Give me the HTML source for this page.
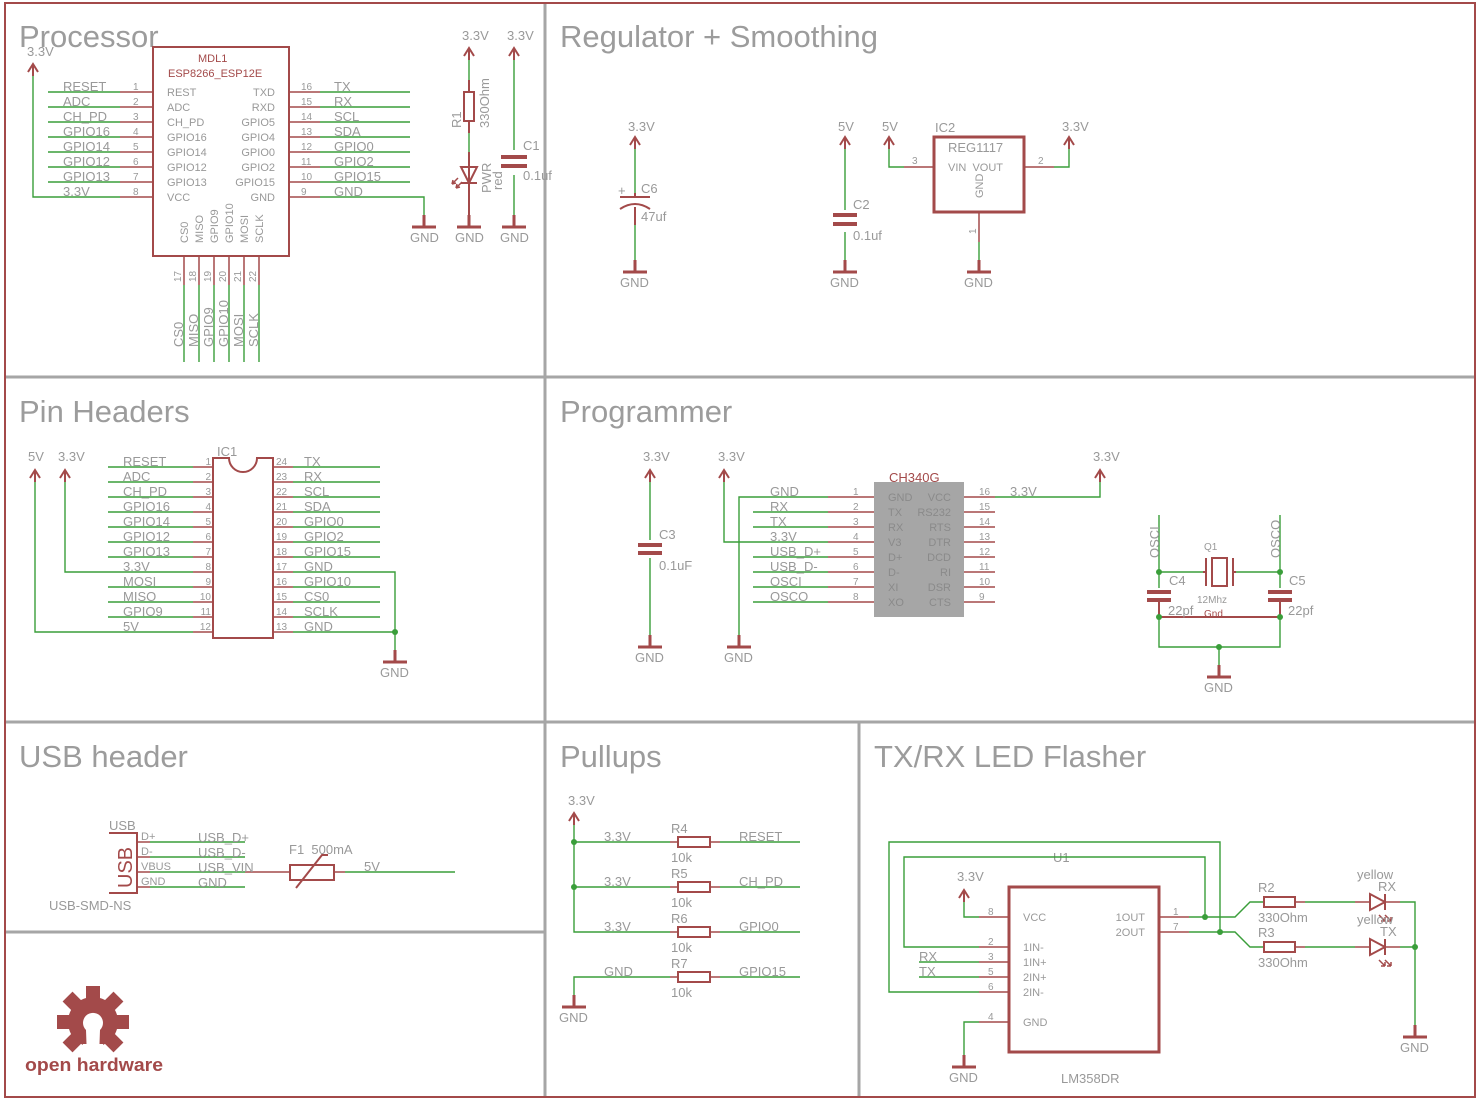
<!DOCTYPE html>
<html><head><meta charset="utf-8"><style>
html,body{margin:0;padding:0;background:#fff;}
svg{display:block}
.r{stroke:#a34a4a;stroke-width:2;fill:none}
.rt{stroke:#a34a4a;stroke-width:3;fill:none}
.g{stroke:#3a9e3a;stroke-width:1.4;fill:none}
.fr{stroke:#a34a4a;stroke-width:2;fill:none}
.dv{stroke:#a6a6a6;stroke-width:3;fill:none}
text{font-family:"Liberation Sans",sans-serif;fill:#999;font-size:13px}
.t{font-size:31px;fill:#9c9c9c}
.n{font-size:10px}
.s{font-size:11px}
.red{fill:#a34a4a}
</style></head><body>
<svg width="1477" height="1102" viewBox="0 0 1477 1102" xmlns="http://www.w3.org/2000/svg">
<defs>
<g id="vcc"><path class="r" d="M-5 8 L0 0 L5 8 M0 0 V12"/></g>
<g id="gnd"><path class="r" d="M0 -12 V0 M-12 0 H12" style="stroke-width:3"/></g>
</defs>
<path class="dv" d="M545 2 V1098 M4 377 H1476 M4 722 H1476 M859 722 V1098 M4 932 H545"/>
<rect class="fr" x="5" y="3" width="1470" height="1094"/>

<text class="t" x="19" y="47">Processor</text>
<rect class="r" x="153" y="47" width="136" height="209"/>
<text class="s red" x="198" y="62">MDL1</text>
<text class="s red" x="168" y="77">ESP8266_ESP12E</text>
<text x="27" y="56">3.3V</text>
<use href="#vcc" x="33" y="64"/>
<path class="g" d="M33 76 V197 H120"/>
<g>
<path class="g" d="M48 92H120M48 107H120M48 122H120M48 137H120M48 152H120M48 167H120M48 182H120"/>
<path class="r" style="stroke-width:1.5" d="M120 92H153M120 107H153M120 122H153M120 137H153M120 152H153M120 167H153M120 182H153M120 197H153"/>
<text x="63" y="91">RESET</text><text x="63" y="106">ADC</text><text x="63" y="121">CH_PD</text><text x="63" y="136">GPIO16</text><text x="63" y="151">GPIO14</text><text x="63" y="166">GPIO12</text><text x="63" y="181">GPIO13</text><text x="63" y="196">3.3V</text>
<text class="n" x="133" y="90">1</text><text class="n" x="133" y="105">2</text><text class="n" x="133" y="120">3</text><text class="n" x="133" y="135">4</text><text class="n" x="133" y="150">5</text><text class="n" x="133" y="165">6</text><text class="n" x="133" y="180">7</text><text class="n" x="133" y="195">8</text>
<text class="s" x="167" y="96">REST</text><text class="s" x="167" y="111">ADC</text><text class="s" x="167" y="126">CH_PD</text><text class="s" x="167" y="141">GPIO16</text><text class="s" x="167" y="156">GPIO14</text><text class="s" x="167" y="171">GPIO12</text><text class="s" x="167" y="186">GPIO13</text><text class="s" x="167" y="201">VCC</text>
<g text-anchor="end"><text class="s" x="275" y="96">TXD</text><text class="s" x="275" y="111">RXD</text><text class="s" x="275" y="126">GPIO5</text><text class="s" x="275" y="141">GPIO4</text><text class="s" x="275" y="156">GPIO0</text><text class="s" x="275" y="171">GPIO2</text><text class="s" x="275" y="186">GPIO15</text><text class="s" x="275" y="201">GND</text></g>
<path class="r" style="stroke-width:1.5" d="M289 92H320M289 107H320M289 122H320M289 137H320M289 152H320M289 167H320M289 182H320M289 197H320"/>
<path class="g" d="M320 92H410M320 107H410M320 122H410M320 137H410M320 152H410M320 167H410M320 182H410M320 197H424V227"/>
<text class="n" x="301" y="90">16</text><text class="n" x="301" y="105">15</text><text class="n" x="301" y="120">14</text><text class="n" x="301" y="135">13</text><text class="n" x="301" y="150">12</text><text class="n" x="301" y="165">11</text><text class="n" x="301" y="180">10</text><text class="n" x="301" y="195">9</text>
<text x="334" y="91">TX</text><text x="334" y="106">RX</text><text x="334" y="121">SCL</text><text x="334" y="136">SDA</text><text x="334" y="151">GPIO0</text><text x="334" y="166">GPIO2</text><text x="334" y="181">GPIO15</text><text x="334" y="196">GND</text>
<use href="#gnd" x="424" y="227"/><text x="410" y="242">GND</text>
<path class="r" style="stroke-width:1.5" d="M184 256V285M199 256V285M214 256V285M229 256V285M244 256V285M259 256V285"/>
<path class="g" d="M184 285V362M199 285V362M214 285V362M229 285V362M244 285V362M259 285V362"/>
<text class="s" transform="translate(188,243) rotate(-90)">CS0</text>
<text class="s" transform="translate(203,243) rotate(-90)">MISO</text>
<text class="s" transform="translate(218,243) rotate(-90)">GPIO9</text>
<text class="s" transform="translate(233,243) rotate(-90)">GPIO10</text>
<text class="s" transform="translate(248,243) rotate(-90)">MOSI</text>
<text class="s" transform="translate(263,243) rotate(-90)">SCLK</text>
<text class="n" transform="translate(181,282) rotate(-90)">17</text>
<text class="n" transform="translate(196,282) rotate(-90)">18</text>
<text class="n" transform="translate(211,282) rotate(-90)">19</text>
<text class="n" transform="translate(226,282) rotate(-90)">20</text>
<text class="n" transform="translate(241,282) rotate(-90)">21</text>
<text class="n" transform="translate(256,282) rotate(-90)">22</text>
<text transform="translate(183,347) rotate(-90)">CS0</text>
<text transform="translate(198,347) rotate(-90)">MISO</text>
<text transform="translate(213,347) rotate(-90)">GPIO9</text>
<text transform="translate(228,347) rotate(-90)">GPIO10</text>
<text transform="translate(243,347) rotate(-90)">MOSI</text>
<text transform="translate(258,347) rotate(-90)">SCLK</text>
</g>
<text x="462" y="40">3.3V</text><use href="#vcc" x="469" y="48"/>
<path class="g" d="M469 60V80M469 133V152M469 195V215"/>
<path class="r" d="M469 80V92M469 121V133M469 152V215"/>
<rect class="r" x="464" y="92" width="10" height="29" fill="#fff"/>
<path class="r" d="M461 167H477L469 183Z M461 183H477" fill="#fff"/>
<path class="r" style="stroke-width:1.5" d="M458 178L452 184M462 182L456 188M452 184l1-4M452 184l4-1M456 188l1-4M456 188l4-1"/>
<use href="#gnd" x="469" y="227"/><text x="455" y="242">GND</text>
<text transform="translate(461,128) rotate(-90)">R1</text>
<text transform="translate(489,128) rotate(-90)">330Ohm</text>
<text transform="translate(491,193) rotate(-90)">PWR</text>
<text transform="translate(502,190) rotate(-90)">red</text>
<text x="507" y="40">3.3V</text><use href="#vcc" x="514" y="48"/>
<path class="g" d="M514 60V150M514 175V215"/>
<path class="r" style="stroke-width:4" d="M501 157H527M501 166H527"/>
<use href="#gnd" x="514" y="227"/><text x="500" y="242">GND</text>
<text x="523" y="150">C1</text><text x="523" y="180">0.1uf</text>

<text class="t" x="560" y="47">Regulator + Smoothing</text>
<text x="628" y="131">3.3V</text><use href="#vcc" x="635" y="137"/>
<path class="g" d="M635 149V193M635 225V260"/>
<path class="r" d="M620 197H650M635 193V197M635 207V225"/>
<path class="r" d="M620 209Q635 199 650 209"/>
<text x="618" y="195">+</text>
<text x="641" y="193">C6</text><text x="641" y="221">47uf</text>
<use href="#gnd" x="635" y="272"/><text x="620" y="287">GND</text>

<text x="838" y="131">5V</text><use href="#vcc" x="845" y="137"/>
<path class="g" d="M845 149V210M845 232V260"/>
<path class="r" style="stroke-width:4" d="M833 215H857M833 224H857"/>
<text x="853" y="209">C2</text><text x="853" y="240">0.1uf</text>
<use href="#gnd" x="845" y="272"/><text x="830" y="287">GND</text>

<text x="882" y="131">5V</text><use href="#vcc" x="889" y="137"/>
<path class="g" d="M889 149V167H904"/><path class="r" style="stroke-width:1.5" d="M904 167H934"/>
<text class="n" x="912" y="164">3</text>
<rect class="rt" x="934" y="137" width="90" height="75"/>
<text x="935" y="132">IC2</text>
<text x="948" y="152">REG1117</text>
<text class="s" x="948" y="171">VIN&#160;&#160;VOUT</text>
<text class="s" transform="translate(983,198) rotate(-90)">GND</text>
<path class="r" style="stroke-width:1.5" d="M1024 167H1054M979 212V242"/>
<path class="g" d="M1054 167H1069V149M979 242V260"/>
<text class="n" x="1038" y="164">2</text>
<text class="n" transform="translate(976,234) rotate(-90)">1</text>
<text x="1062" y="131">3.3V</text><use href="#vcc" x="1069" y="137"/>
<use href="#gnd" x="979" y="272"/><text x="964" y="287">GND</text>

<text class="t" x="19" y="422">Pin Headers</text>
<text x="28" y="461">5V</text><text x="58" y="461">3.3V</text>
<use href="#vcc" x="35" y="470"/><use href="#vcc" x="65" y="470"/>
<path class="g" d="M35 482V632H193M65 482V572H193"/>
<path class="r" d="M213 458H229A14 14 0 0 0 257 458H273V638H213Z"/>
<text x="217" y="456">IC1</text>
<path class="g" d="M108 467H193M108 482H193M108 497H193M108 512H193M108 527H193M108 542H193M108 557H193M108 587H193M108 602H193M108 617H193"/>
<path class="r" style="stroke-width:1.5" d="M193 467H213M193 482H213M193 497H213M193 512H213M193 527H213M193 542H213M193 557H213M193 572H213M193 587H213M193 602H213M193 617H213M193 632H213"/>
<text x="123" y="466">RESET</text><text x="123" y="481">ADC</text><text x="123" y="496">CH_PD</text><text x="123" y="511">GPIO16</text><text x="123" y="526">GPIO14</text><text x="123" y="541">GPIO12</text><text x="123" y="556">GPIO13</text><text x="123" y="571">3.3V</text><text x="123" y="586">MOSI</text><text x="123" y="601">MISO</text><text x="123" y="616">GPIO9</text><text x="123" y="631">5V</text>
<g text-anchor="end"><text class="n" x="211" y="465">1</text><text class="n" x="211" y="480">2</text><text class="n" x="211" y="495">3</text><text class="n" x="211" y="510">4</text><text class="n" x="211" y="525">5</text><text class="n" x="211" y="540">6</text><text class="n" x="211" y="555">7</text><text class="n" x="211" y="570">8</text><text class="n" x="211" y="585">9</text><text class="n" x="211" y="600">10</text><text class="n" x="211" y="615">11</text><text class="n" x="211" y="630">12</text></g>
<path class="r" style="stroke-width:1.5" d="M273 467H293M273 482H293M273 497H293M273 512H293M273 527H293M273 542H293M273 557H293M273 572H293M273 587H293M273 602H293M273 617H293M273 632H293"/>
<path class="g" d="M293 467H380M293 482H380M293 497H380M293 512H380M293 527H380M293 542H380M293 557H380M293 587H380M293 602H380M293 617H380M293 572H395V650M293 632H395"/>
<circle cx="395" cy="632" r="3" fill="#3a9e3a"/>
<use href="#gnd" x="395" y="662"/><text x="380" y="677">GND</text>
<text class="n" x="276" y="465">24</text><text class="n" x="276" y="480">23</text><text class="n" x="276" y="495">22</text><text class="n" x="276" y="510">21</text><text class="n" x="276" y="525">20</text><text class="n" x="276" y="540">19</text><text class="n" x="276" y="555">18</text><text class="n" x="276" y="570">17</text><text class="n" x="276" y="585">16</text><text class="n" x="276" y="600">15</text><text class="n" x="276" y="615">14</text><text class="n" x="276" y="630">13</text>
<text x="304" y="466">TX</text><text x="304" y="481">RX</text><text x="304" y="496">SCL</text><text x="304" y="511">SDA</text><text x="304" y="526">GPIO0</text><text x="304" y="541">GPIO2</text><text x="304" y="556">GPIO15</text><text x="304" y="571">GND</text><text x="304" y="586">GPIO10</text><text x="304" y="601">CS0</text><text x="304" y="616">SCLK</text><text x="304" y="631">GND</text>

<text class="t" x="560" y="422">Programmer</text>
<text x="643" y="461">3.3V</text><use href="#vcc" x="650" y="470"/>
<path class="g" d="M650 482V540M650 558V635"/>
<path class="r" style="stroke-width:4" d="M638 545H662M638 553H662"/>
<text x="659" y="539">C3</text><text x="659" y="570">0.1uF</text>
<use href="#gnd" x="650" y="647"/><text x="635" y="662">GND</text>
<text x="718" y="461">3.3V</text><use href="#vcc" x="724" y="470"/>
<path class="g" d="M724 482V542H828M739 635V497H828M753 512H828M753 527H828M753 557H828M753 572H828M753 587H828M753 602H828"/>
<use href="#gnd" x="739" y="647"/><text x="724" y="662">GND</text>
<rect x="874" y="482" width="90" height="135" fill="#a6a6a6"/>
<text class="red" x="889" y="482">CH340G</text>
<path class="r" style="stroke-width:1.5" d="M828 497H874M828 512H874M828 527H874M828 542H874M828 557H874M828 572H874M828 587H874M828 602H874M964 497H995M964 512H995M964 527H995M964 542H995M964 557H995M964 572H995M964 587H995M964 602H995"/>
<text x="770" y="496">GND</text><text x="770" y="511">RX</text><text x="770" y="526">TX</text><text x="770" y="541">3.3V</text><text x="770" y="556">USB_D+</text><text x="770" y="571">USB_D-</text><text x="770" y="586">OSCI</text><text x="770" y="601">OSCO</text>
<text class="n" x="853" y="495">1</text><text class="n" x="853" y="510">2</text><text class="n" x="853" y="525">3</text><text class="n" x="853" y="540">4</text><text class="n" x="853" y="555">5</text><text class="n" x="853" y="570">6</text><text class="n" x="853" y="585">7</text><text class="n" x="853" y="600">8</text>
<text class="s" style="fill:#8a8a8a" x="888" y="501">GND</text><text class="s" style="fill:#8a8a8a" x="888" y="516">TX</text><text class="s" style="fill:#8a8a8a" x="888" y="531">RX</text><text class="s" style="fill:#8a8a8a" x="888" y="546">V3</text><text class="s" style="fill:#8a8a8a" x="888" y="561">D+</text><text class="s" style="fill:#8a8a8a" x="888" y="576">D-</text><text class="s" style="fill:#8a8a8a" x="888" y="591">XI</text><text class="s" style="fill:#8a8a8a" x="888" y="606">XO</text>
<g text-anchor="end"><text class="s" style="fill:#8a8a8a" x="951" y="501">VCC</text><text class="s" style="fill:#8a8a8a" x="951" y="516">RS232</text><text class="s" style="fill:#8a8a8a" x="951" y="531">RTS</text><text class="s" style="fill:#8a8a8a" x="951" y="546">DTR</text><text class="s" style="fill:#8a8a8a" x="951" y="561">DCD</text><text class="s" style="fill:#8a8a8a" x="951" y="576">RI</text><text class="s" style="fill:#8a8a8a" x="951" y="591">DSR</text><text class="s" style="fill:#8a8a8a" x="951" y="606">CTS</text></g>
<text class="n" x="979" y="495">16</text><text class="n" x="979" y="510">15</text><text class="n" x="979" y="525">14</text><text class="n" x="979" y="540">13</text><text class="n" x="979" y="555">12</text><text class="n" x="979" y="570">11</text><text class="n" x="979" y="585">10</text><text class="n" x="979" y="600">9</text>
<path class="g" d="M995 497H1100V482"/>
<text x="1010" y="496">3.3V</text>
<text x="1093" y="461">3.3V</text><use href="#vcc" x="1100" y="470"/>
<path class="g" d="M1159 515V588M1280 515V588M1159 572H1203M1236 572H1280M1159 605V647H1280V605M1219 647V665"/>
<path class="r" style="stroke-width:4" d="M1147 592H1171M1147 600H1171M1268 592H1292M1268 600H1292"/>
<path class="r" d="M1159 600V617M1280 600V617M1159 617H1280M1203 572H1206M1233 572H1236"/>
<path class="r" d="M1206 558V586M1233 558V586"/><rect class="r" x="1212" y="558" width="15" height="28"/>
<circle cx="1159" cy="572" r="3" fill="#3a9e3a"/><circle cx="1280" cy="572" r="3" fill="#3a9e3a"/>
<circle cx="1159" cy="617" r="3" fill="#3a9e3a"/><circle cx="1280" cy="617" r="3" fill="#3a9e3a"/>
<circle cx="1219" cy="647" r="3" fill="#3a9e3a"/>
<text transform="translate(1159,558) rotate(-90)">OSCI</text>
<text transform="translate(1280,558) rotate(-90)">OSCO</text>
<text class="n" x="1204" y="550">Q1</text><text class="n" x="1197" y="603">12Mhz</text>
<text class="n red" x="1204" y="617">Gnd</text>
<text x="1169" y="585">C4</text><text x="1168" y="615">22pf</text>
<text x="1289" y="585">C5</text><text x="1288" y="615">22pf</text>
<use href="#gnd" x="1219" y="677"/><text x="1204" y="692">GND</text>

<text class="t" x="19" y="767">USB header</text>
<path class="r" d="M109 833H137V893H109"/>
<text x="109" y="830">USB</text>
<text transform="translate(132,888) rotate(-90)" style="font-size:20px;fill:#a34a4a">USB</text>
<text class="s" x="141" y="840">D+</text><text class="s" x="141" y="855">D-</text><text class="s" x="141" y="870">VBUS</text><text class="s" x="141" y="885">GND</text>
<path class="r" style="stroke-width:1.5" d="M137 842H150M137 857H150M137 872H150M137 887H150M245 872H290M334 872H345"/>
<path class="g" d="M150 842H245M150 857H245M150 872H245M150 887H245M345 872H455"/>
<text x="198" y="842">USB_D+</text><text x="198" y="857">USB_D-</text><text x="198" y="872">USB_VIN</text><text x="198" y="887">GND</text>
<rect class="r" x="290" y="865" width="44" height="15"/>
<path class="r" d="M296 888L322 855H328"/>
<text x="289" y="854">F1&#160;&#160;500mA</text><text x="364" y="871">5V</text>
<text x="49" y="910">USB-SMD-NS</text>
<g transform="translate(93,1022)" fill="#a34a4a">
<circle r="25"/>
<g id="tooth"><rect x="-7" y="-36" width="14" height="14"/></g>
<use href="#tooth" transform="rotate(45)"/><use href="#tooth" transform="rotate(90)"/><use href="#tooth" transform="rotate(135)"/><use href="#tooth" transform="rotate(225)"/><use href="#tooth" transform="rotate(270)"/><use href="#tooth" transform="rotate(315)"/>
<path d="M-6 36 L-7 8 A10 10 0 1 1 7 8 L6 36 Z" fill="#fff"/>
<rect x="-10" y="22" width="20" height="16" fill="#fff"/>
</g>
<text x="25" y="1071" textLength="138" lengthAdjust="spacingAndGlyphs" style="font-size:18px;font-weight:bold;fill:#a34a4a">open hardware</text>

<text class="t" x="560" y="767">Pullups</text>
<text x="568" y="805">3.3V</text><use href="#vcc" x="574" y="813"/>
<path class="g" d="M574 825V932H670M574 842H670M574 887H670M574 1005V977H670M720 842H800M720 887H800M720 932H800M720 977H800"/>
<circle cx="574" cy="842" r="3" fill="#3a9e3a"/><circle cx="574" cy="887" r="3" fill="#3a9e3a"/>
<path class="r" style="stroke-width:1.5" d="M670 842H678M710 842H720M670 887H678M710 887H720M670 932H678M710 932H720M670 977H678M710 977H720"/>
<rect class="r" x="678" y="837" width="32" height="10"/><rect class="r" x="678" y="882" width="32" height="10"/><rect class="r" x="678" y="927" width="32" height="10"/><rect class="r" x="678" y="972" width="32" height="10"/>
<text x="604" y="841">3.3V</text><text x="604" y="886">3.3V</text><text x="604" y="931">3.3V</text><text x="604" y="976">GND</text>
<text x="671" y="833">R4</text><text x="671" y="878">R5</text><text x="671" y="923">R6</text><text x="671" y="968">R7</text>
<text x="671" y="862">10k</text><text x="671" y="907">10k</text><text x="671" y="952">10k</text><text x="671" y="997">10k</text>
<text x="739" y="841">RESET</text><text x="739" y="886">CH_PD</text><text x="739" y="931">GPIO0</text><text x="739" y="976">GPIO15</text>
<use href="#gnd" x="574" y="1007"/><text x="559" y="1022">GND</text>

<text class="t" x="874" y="767">TX/RX LED Flasher</text>
<rect class="rt" x="1009" y="887" width="150" height="165"/>
<text x="1053" y="862">U1</text>
<text x="1061" y="1083">LM358DR</text>
<text class="s" x="1023" y="921">VCC</text><text class="s" x="1023" y="951">1IN-</text><text class="s" x="1023" y="966">1IN+</text><text class="s" x="1023" y="981">2IN+</text><text class="s" x="1023" y="996">2IN-</text><text class="s" x="1023" y="1026">GND</text>
<g text-anchor="end"><text class="s" x="1145" y="921">1OUT</text><text class="s" x="1145" y="936">2OUT</text></g>
<path class="r" style="stroke-width:1.5" d="M979 917H1009M979 947H1009M979 962H1009M979 977H1009M979 992H1009M979 1022H1009M1159 917H1189M1159 932H1189"/>
<text class="n" x="988" y="915">8</text><text class="n" x="988" y="945">2</text><text class="n" x="988" y="960">3</text><text class="n" x="988" y="975">5</text><text class="n" x="988" y="990">6</text><text class="n" x="988" y="1020">4</text>
<text class="n" x="1173" y="915">1</text><text class="n" x="1173" y="930">7</text>
<text x="957" y="881">3.3V</text><use href="#vcc" x="964" y="890"/>
<path class="g" d="M964 902V917H979M964 1055V1022H979M919 962H979M919 977H979"/>
<text x="919" y="961">RX</text><text x="919" y="976">TX</text>
<use href="#gnd" x="964" y="1067"/><text x="949" y="1082">GND</text>
<path class="g" d="M979 992H889V842H1220V932M979 947H904V857H1205V917M1189 917H1235L1250 902H1264M1189 932H1235L1250 947H1264M1305 902H1355M1305 947H1355M1400 902H1415V1025M1400 947H1415"/>
<circle cx="1205" cy="917" r="3" fill="#3a9e3a"/><circle cx="1220" cy="932" r="3" fill="#3a9e3a"/><circle cx="1415" cy="947" r="3" fill="#3a9e3a"/>
<path class="r" style="stroke-width:1.5" d="M1295 902H1305M1295 947H1305M1355 902H1370M1385 902H1400M1355 947H1370M1385 947H1400"/>
<rect class="r" x="1264" y="897" width="31" height="10"/><rect class="r" x="1264" y="942" width="31" height="10"/>
<path class="r" d="M1370 894V910L1385 902Z M1385 894V910 M1370 939V955L1385 947Z M1385 939V955"/>
<path class="r" style="stroke-width:1.5" d="M1379 915L1385 921M1385 915L1391 921M1379 960L1385 966M1385 960L1391 966M1385 921l-4 0M1385 921l0-4M1391 921l-4 0M1391 921l0-4M1385 966l-4 0M1385 966l0-4M1391 966l-4 0M1391 966l0-4"/>
<text x="1258" y="892">R2</text><text x="1258" y="922">330Ohm</text>
<text x="1258" y="937">R3</text><text x="1258" y="967">330Ohm</text>
<text x="1357" y="879">yellow</text><text x="1378" y="891">RX</text>
<text x="1357" y="924">yellow</text><text x="1380" y="936">TX</text>
<use href="#gnd" x="1415" y="1037"/><text x="1400" y="1052">GND</text>
</svg>
</body></html>
